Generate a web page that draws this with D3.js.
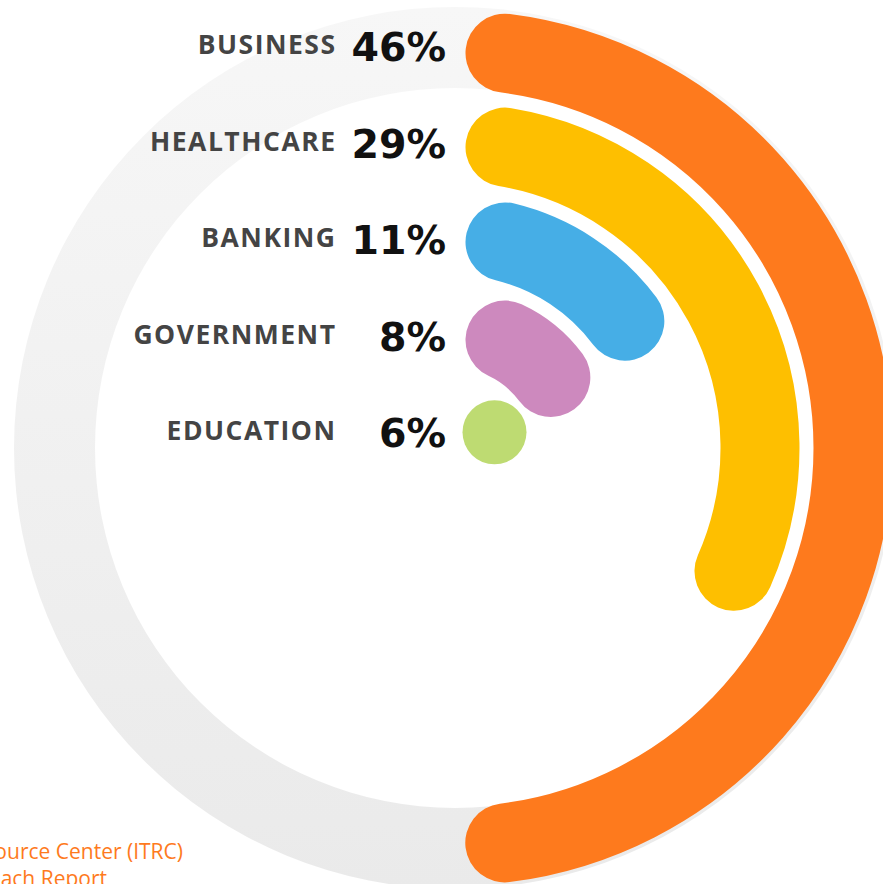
<!DOCTYPE html>
<html>
<head>
<meta charset="utf-8">
<script src="https://cdn.jsdelivr.net/npm/d3@7/dist/d3.min.js"></script>
<style>
  html, body { margin: 0; padding: 0; background: #ffffff; }
  svg { display: block; }
</style>
</head>
<body>
<svg id="chart" width="883" height="884"></svg>
<script>
// ---- data ----
const categories = ["BUSINESS", "HEALTHCARE", "BANKING", "GOVERNMENT", "EDUCATION"];
const values = [46, 29, 11, 8, 6];
const valueLabels = ["46%", "29%", "11%", "8%", "6%"];
const sourceLines = ["Source: Identity Theft Resource Center (ITRC)", "2017 Annual Data Breach Report"];

// ---- style ----
const colors = ["#FE7A1D", "#FEBF00", "#46AEE6", "#CD89BE", "#BEDB72"];
const cx = 455, cy = 448;
const BAR_W = 79;          // ring thickness
const START_OFFSET = 50;   // start cap centre distance from the vertical axis
const DOT_R = 32;          // innermost item too small for a ring -> dot
const TRACK_IN = 360, TRACK_OUT = 441;

const svg = d3.select("#chart");
const defs = svg.append("defs");
const grad = defs.append("linearGradient").attr("id", "trackGrad")
  .attr("x1", 0).attr("y1", 0).attr("x2", 0).attr("y2", 1);
grad.append("stop").attr("offset", "0%").attr("stop-color", "#F7F7F7");
grad.append("stop").attr("offset", "100%").attr("stop-color", "#EAEAEA");

const g = svg.append("g").attr("transform", `translate(${cx},${cy})`);

// background track
g.append("path")
  .attr("d", d3.arc().innerRadius(TRACK_IN).outerRadius(TRACK_OUT).startAngle(0).endAngle(2 * Math.PI)())
  .attr("fill", "url(#trackGrad)");

const angle = d3.scaleLinear().domain([0, 100]).range([0, 2 * Math.PI]);
const rScale = d3.scalePoint().domain(categories).range([398, 26]);

categories.forEach((c, i) => {
  const r = rScale(c);
  if (r > START_OFFSET) {
    const a0 = Math.asin(START_OFFSET / r);
    const a1 = a0 + angle(values[i]);
    const p = d3.path();
    p.arc(0, 0, r, a0 - Math.PI / 2, a1 - Math.PI / 2);
    g.append("path")
      .attr("d", p.toString())
      .attr("fill", "none")
      .attr("stroke", colors[i])
      .attr("stroke-width", BAR_W)
      .attr("stroke-linecap", "round");
  } else {
    // ring would collapse: draw as a dot whose left edge lines up with the caps
    const pad = START_OFFSET - BAR_W / 2;
    const rr = DOT_R + pad;
    const xo = DOT_R + pad - 3;
    const a = Math.asin(Math.min(1, xo / rr));
    g.append("circle")
      .attr("cx", rr * Math.sin(a))
      .attr("cy", -rr * Math.cos(a))
      .attr("r", DOT_R)
      .attr("fill", colors[i]);
  }
});

// labels
const labelY = d3.scalePoint().domain(categories).range([54, 440]);
const LS = 1.5;
svg.append("g").selectAll("text.name").data(categories).join("text")
  .attr("class", "name")
  .attr("x", 335 + LS)
  .attr("y", d => labelY(d))
  .attr("text-anchor", "end")
  .attr("font-family", "Open Sans, sans-serif")
  .attr("font-weight", "bold")
  .attr("font-size", 26.5)
  .attr("letter-spacing", LS)
  .attr("fill", "#444444")
  .text(d => d);

svg.append("g").selectAll("text.pct").data(categories).join("text")
  .attr("class", "pct")
  .attr("x", 446)
  .attr("y", d => labelY(d) + 7)
  .attr("text-anchor", "end")
  .attr("font-family", "DejaVu Sans, sans-serif")
  .attr("font-weight", "bold")
  .attr("font-size", 39.5)
  .attr("fill", "#111111")
  .text((d, i) => valueLabels[i]);

// source
svg.append("text").attr("x", 183).attr("y", 859).attr("text-anchor", "end")
  .attr("font-family", "Open Sans, sans-serif").attr("font-size", 21).attr("fill", "#FE7A1D")
  .text(sourceLines[0]);
svg.append("text").attr("x", 107).attr("y", 886).attr("text-anchor", "end")
  .attr("font-family", "Open Sans, sans-serif").attr("font-size", 21).attr("fill", "#FE7A1D")
  .text(sourceLines[1]);
</script>
</body>
</html>
